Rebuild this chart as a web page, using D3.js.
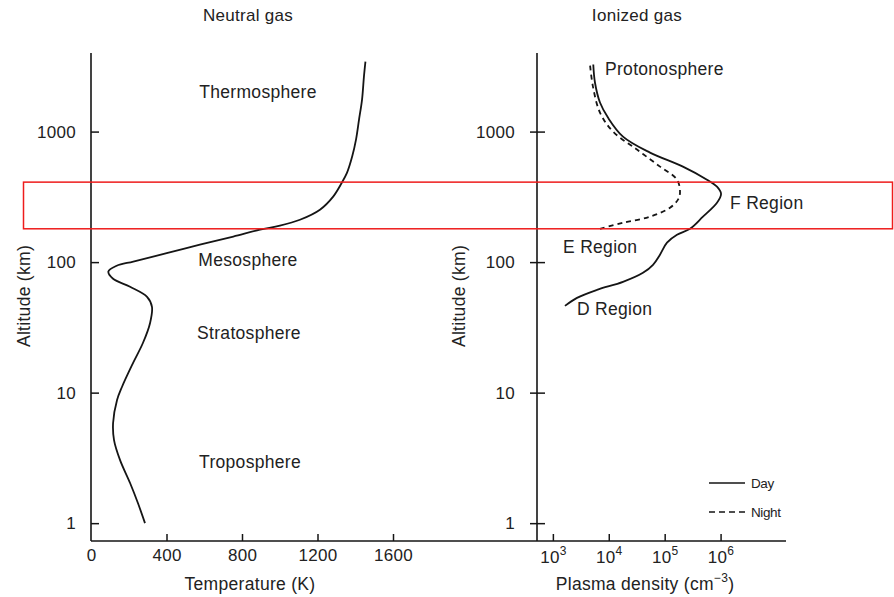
<!DOCTYPE html>
<html>
<head>
<meta charset="utf-8">
<script src="https://cdn.jsdelivr.net/npm/d3@7/dist/d3.min.js"></script>
<style>
  html, body { margin: 0; padding: 0; background: #fff; }
  svg { display: block; }
  text { font-family: "Liberation Sans", Arial, Helvetica, sans-serif; fill: #222; }
</style>
</head>
<body>
<svg id="chart" width="894" height="597"></svg>
<script>
// Axis ticks
const altitudeTicks = [1, 10, 100, 1000];
const temperatureTicks = [0, 400, 800, 1200, 1600];
const densityTicks = [1e3, 1e4, 1e5, 1e6];

// Neutral atmosphere temperature profile (altitude km, temperature K)
const neutralAltitude = [1.0, 1.42, 2.03, 3.04, 4.33, 5.85, 8.78, 11.05, 16.9, 24.0, 34.2, 45.4, 54.2, 64.7, 74.5, 84.7, 93.7, 101, 117, 136, 157, 177, 190, 211, 252, 319, 404, 482, 646, 868, 1236, 1760, 2640, 3440];
const neutralTemperature = [286, 249, 207, 154, 122, 117, 138, 164, 223, 275, 313, 323, 297, 207, 117, 92, 136, 224, 401, 577, 754, 895, 1001, 1107, 1213, 1284, 1328, 1356, 1384, 1404, 1420, 1436, 1446, 1454];

// Ionospheric plasma density, daytime (altitude km, density cm^-3)
const dayAltitude = [46.2, 53.2, 61.3, 70.6, 82.8, 95.4, 114, 141, 162, 180, 223, 285, 334, 378, 428, 539, 690, 915, 1280, 1669, 2377, 3265];
const dayDensity = [1645, 2700, 6150, 17950, 40900, 61800, 82400, 110000, 166000, 284000, 484000, 862000, 1020000, 862000, 571000, 212000, 54600, 17950, 9670, 6960, 5660, 5280];

// Ionospheric plasma density, nighttime
const nightAltitude = [180, 200, 223, 261, 301, 340, 428, 539, 728, 1000, 1399, 2213, 3265];
const nightDensity = [6960, 17950, 54600, 124500, 173000, 188000, 166000, 82400, 31950, 11900, 6960, 5210, 4610];

// Text
const panelTitles = ["Neutral gas", "Ionized gas"];
const neutralLayers = ["Thermosphere", "Mesosphere", "Stratosphere", "Troposphere"];
const ionLayers = ["Protonosphere", "F Region", "E Region", "D Region"];
const legendLabels = ["Day", "Night"];
const highlightBand = [180, 410];

const svg = d3.select("#chart");
const ink = "#151515";

// Shared altitude scale
const y = d3.scaleLog().domain([0.73, 4000]).range([541, 53]);
const xT = d3.scaleLinear().domain([0, 1600]).range([91, 393]);
const xN = d3.scaleLog().domain([520, 1.48e7]).range([537, 786]);

const zip = (a, b) => a.map((v, i) => [v, b[i]]);

// ---------- Left panel: temperature ----------
const left = svg.append("g");

// baseline across both panels
svg.append("line")
  .attr("x1", xT(0)).attr("x2", xN.range()[1])
  .attr("y1", y.range()[0]).attr("y2", y.range()[0])
  .attr("stroke", ink).attr("stroke-width", 1.6);

left.append("line")
  .attr("x1", xT(0)).attr("x2", xT(0))
  .attr("y1", y.range()[0]).attr("y2", y.range()[1])
  .attr("stroke", ink).attr("stroke-width", 1.6);

const leftY = left.append("g")
  .attr("transform", `translate(${xT(0)},0)`)
  .call(d3.axisLeft(y).tickValues(altitudeTicks).tickFormat(d3.format("d")).tickSizeOuter(0).tickPadding(9));
leftY.select(".domain").remove();
leftY.selectAll(".tick line").attr("x1", 0).attr("x2", 8).attr("stroke", ink).attr("stroke-width", 1.5);
leftY.selectAll(".tick text").attr("font-size", 17).attr("letter-spacing", 0.3).attr("fill", "#222");

const leftX = left.append("g")
  .attr("transform", `translate(0,${y.range()[0]})`)
  .call(d3.axisBottom(xT).tickValues(temperatureTicks).tickFormat(d3.format("d")).tickSize(-7).tickSizeOuter(0).tickPadding(8));
leftX.select(".domain").remove();
leftX.selectAll(".tick line").attr("stroke", ink).attr("stroke-width", 1.5)
  .filter(d => d === 0).remove();
leftX.selectAll(".tick text").attr("font-size", 17).attr("letter-spacing", 0.3).attr("fill", "#222");

const curve = d3.curveCatmullRom.alpha(0.5);

left.append("path")
  .datum(zip(neutralTemperature, neutralAltitude))
  .attr("fill", "none").attr("stroke", ink).attr("stroke-width", 1.8)
  .attr("d", d3.line().x(d => xT(d[0])).y(d => y(d[1])).curve(curve));

// ---------- Right panel: plasma density ----------
const right = svg.append("g");
right.append("line")
  .attr("x1", xN.range()[0]).attr("x2", xN.range()[0])
  .attr("y1", y.range()[0]).attr("y2", y.range()[1])
  .attr("stroke", ink).attr("stroke-width", 1.6);

const rightY = right.append("g")
  .attr("transform", `translate(${xN.range()[0]},0)`)
  .call(d3.axisLeft(y).tickValues(altitudeTicks).tickFormat(d3.format("d")).tickSizeOuter(0).tickPadding(16));
rightY.select(".domain").remove();
rightY.selectAll(".tick line").attr("x1", -7).attr("x2", 8).attr("stroke", ink).attr("stroke-width", 1.5);
rightY.selectAll(".tick text").attr("font-size", 17).attr("letter-spacing", 0.3).attr("fill", "#222");

const rightX = right.append("g")
  .attr("transform", `translate(0,${y.range()[0]})`)
  .call(d3.axisBottom(xN).tickValues(densityTicks).tickFormat(() => "").tickSize(-7).tickSizeOuter(0).tickPadding(8));
rightX.select(".domain").remove();
rightX.selectAll(".tick line").attr("stroke", ink).attr("stroke-width", 1.5);
rightX.selectAll(".tick text").each(function(d) {
  const t = d3.select(this).attr("font-size", 17).attr("letter-spacing", 0.3).attr("fill", "#222").attr("dy", null).attr("y", 22);
  t.append("tspan").text("10");
  t.append("tspan").attr("font-size", 12).attr("dy", -8).text(String(Math.round(Math.log10(d))));
});

const ionLine = d3.line().x(d => xN(d[0])).y(d => y(d[1])).curve(curve);
right.append("path")
  .datum(zip(nightDensity, nightAltitude))
  .attr("fill", "none").attr("stroke", ink).attr("stroke-width", 1.8)
  .attr("stroke-dasharray", "5,4")
  .attr("d", ionLine);
right.append("path")
  .datum(zip(dayDensity, dayAltitude))
  .attr("fill", "none").attr("stroke", ink).attr("stroke-width", 1.8)
  .attr("d", ionLine);

// ---------- Titles and labels ----------
const label = (x, yy, txt, size, anchor) => svg.append("text")
  .attr("x", x).attr("y", yy).attr("font-size", size)
  .attr("letter-spacing", 0.3)
  .attr("text-anchor", anchor || "middle").text(txt);

label(248, 21, panelTitles[0], 17);
label(637, 21, panelTitles[1], 17);

label(258, 98, neutralLayers[0], 17.5);
label(248, 266, neutralLayers[1], 17.5);
label(249, 339, neutralLayers[2], 17.5);
label(250, 468, neutralLayers[3], 17.5);

label(605, 75, ionLayers[0], 17.5, "start");
label(730, 209, ionLayers[1], 17.5, "start");
label(563, 253, ionLayers[2], 17.5, "start");
label(577, 315, ionLayers[3], 17.5, "start");

label(250, 590, "Temperature (K)", 17.5);
const xl = label(645, 590, "Plasma density (cm", 17.5);
xl.append("tspan").attr("font-size", 12).attr("dy", -8).text("\u22123");
xl.append("tspan").attr("dy", 8).text(")");

[30, 465].forEach(cx => {
  svg.append("text")
    .attr("transform", `translate(${cx},296) rotate(-90)`)
    .attr("text-anchor", "middle").attr("font-size", 17.5)
    .attr("letter-spacing", 0.3)
    .text("Altitude (km)");
});

// ---------- Legend ----------
const legend = svg.append("g");
legendLabels.forEach((name, i) => {
  const ly = 483 + i * 29;
  legend.append("line")
    .attr("x1", 709).attr("x2", 745).attr("y1", ly).attr("y2", ly)
    .attr("stroke", ink).attr("stroke-width", 1.6)
    .attr("stroke-dasharray", i === 1 ? "6,4" : null);
  legend.append("text")
    .attr("x", 751).attr("y", ly + 5).attr("font-size", 13.5)
    .attr("letter-spacing", -0.4)
    .text(name);
});

// ---------- Highlighted altitude band ----------
svg.append("rect")
  .attr("x", 23.5).attr("y", y(highlightBand[1]))
  .attr("width", 869).attr("height", y(highlightBand[0]) - y(highlightBand[1]))
  .attr("fill", "none").attr("stroke", "#ee1c1c").attr("stroke-width", 1.5);
</script>
</body>
</html>
